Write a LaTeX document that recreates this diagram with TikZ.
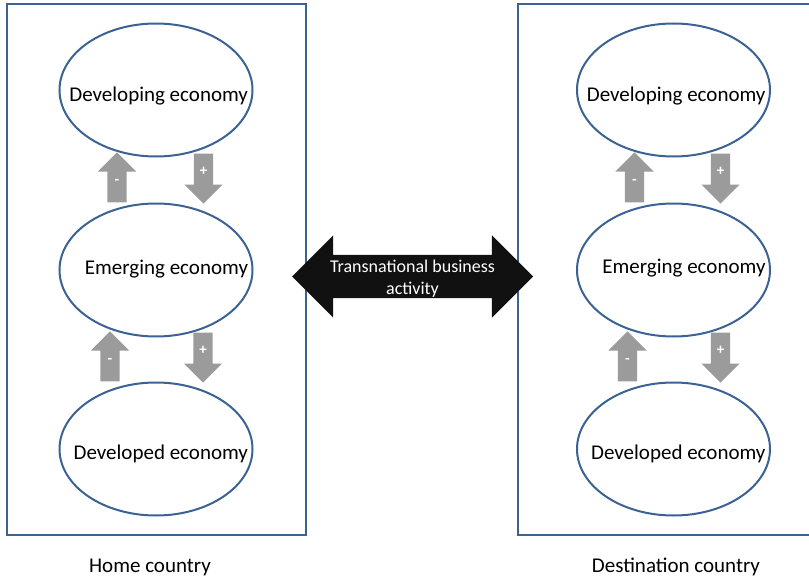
\documentclass[tikz,border=0pt]{standalone}
\usepackage{fontspec}
\setmainfont{Carlito}
\definecolor{boxblue}{RGB}{60,98,148}
\definecolor{flowgray}{RGB}{155,155,155}
\definecolor{tradeblack}{RGB}{17,17,17}
\usetikzlibrary{shapes.geometric,shapes.arrows}
% text set flush right inside the ellipse, lowered by #1
\newcommand{\eco}[2]{\raisebox{-#1}[0pt][0pt]{\makebox[0pt][r]{#2 economy\hspace*{-92pt}}}}

\begin{document}
\begin{tikzpicture}[x=1pt,y=-1pt,
    country/.style={rectangle,draw=boxblue,line width=2pt,minimum width=299pt,minimum height=531pt,inner sep=0pt},
    economy/.style={ellipse,draw=boxblue,line width=2pt,minimum width=193pt,minimum height=133pt,inner sep=0pt,font=\fontsize{21}{25}\selectfont},
    flow/.style={single arrow,fill=flowgray,text=white,single arrow head extend=9.5pt,minimum height=50pt,
        text width=10pt,text height=7pt,text depth=3pt,align=center,inner sep=4.5pt,font=\fontsize{15}{15}\selectfont\bfseries},
    up/.style={flow,shape border rotate=90,anchor=tail},
    down/.style={flow,shape border rotate=270,anchor=tip},
    caption/.style={font=\fontsize{21}{25}\selectfont}]
  \useasboundingbox (0,0) rectangle (809,578);

  \node[country] (home) at (156.5,269.5) {};
  \node[country] (dest) at (667.5,269.5) {};

  \node[economy] (dev1) at (156,90) {\eco{12pt}{Developing}};
  \node[economy] (emg1) at (156,270) {\eco{4pt}{Emerging}};
  \node[economy] (dvd1) at (156,449) {\eco{10pt}{Developed}};
  \node[economy] (dev2) at (673.5,90) {\eco{11pt}{Developing}};
  \node[economy] (emg2) at (673.5,270) {\eco{3pt}{Emerging}};
  \node[economy] (dvd2) at (673.5,449) {\eco{10pt}{Developed}};

  \node[up] (up1) at ([xshift=-39pt]emg1.north) {-};
  \node[down] (dn1) at ([xshift=47.5pt,yshift=-1.5pt]emg1.north) {+};
  \node[up] (up2) at ([xshift=-46pt]dvd1.north) {-};
  \node[down] (dn2) at ([xshift=47pt,yshift=-1.5pt]dvd1.north) {+};
  \node[up] (up3) at ([xshift=-39pt]emg2.north) {-};
  \node[down] (dn3) at ([xshift=47pt,yshift=-1.5pt]emg2.north) {+};
  \node[up] (up4) at ([xshift=-46pt]dvd2.north) {-};
  \node[down] (dn4) at ([xshift=47pt,yshift=-1.5pt]dvd2.north) {+};

  \node[double arrow,fill=tradeblack,minimum height=241pt,minimum width=82pt,
        double arrow head extend=19.5pt,inner sep=21.5pt] (trade) at (412.5,276.5) {};
  \node[text=white,align=center,font=\fontsize{18}{22}\selectfont] (tradetext) at ([yshift=-2pt]trade.center)
    {Transnational business\\activity};

  \node[caption] (homelabel) at (150,567) {Home country};
  \node[caption] (destlabel) at (676,567) {Destination country};
\end{tikzpicture}
\end{document}
